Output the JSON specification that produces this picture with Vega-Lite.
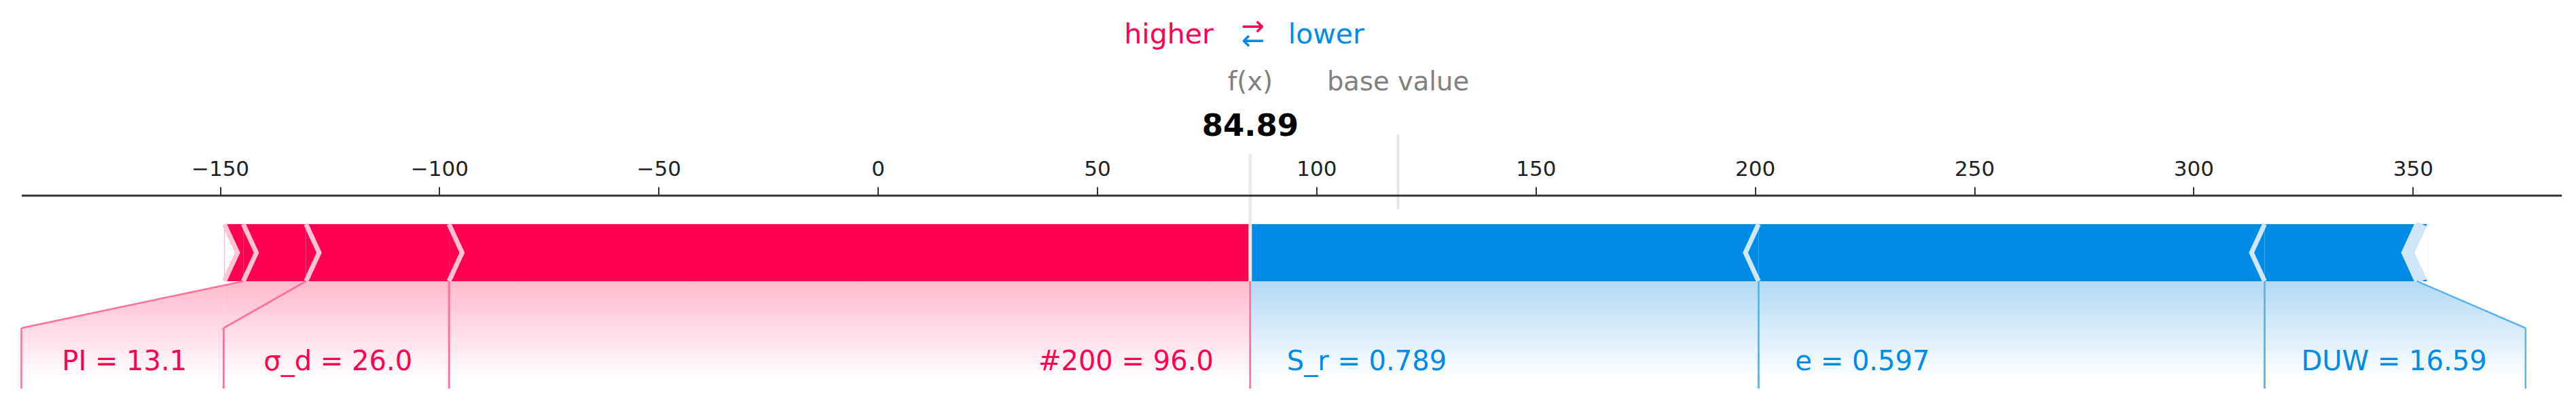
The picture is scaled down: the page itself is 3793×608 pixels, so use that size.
{
  "$schema": "https://vega.github.io/schema/vega-lite/v6.json",
  "width": 3740.2,
  "height": 320.5,
  "autosize": {"type": "none"},
  "padding": {"left": 31.5, "top": 287.5, "right": 21.3, "bottom": 0},
  "background": "white",
  "config": {"view": {"stroke": null}, "font": "DejaVu Sans", "axisY": {"disable": true}},
  "datasets": {
    "features": [
      {"feature": "other", "effect": "higher", "start": -149.0, "end": -144.7},
      {"feature": "PI", "label": "PI = 13.1", "effect": "higher", "start": -144.7, "end": -130.4, "label_start": -195.3, "label_end": -149.2},
      {"feature": "σ_d", "label": "σ_d = 26.0", "effect": "higher", "start": -130.4, "end": -97.8, "label_start": -149.2, "label_end": -97.8},
      {"feature": "#200", "label": "#200 = 96.0", "effect": "higher", "start": -97.8, "end": 84.89, "label_start": -97.8, "label_end": 84.89},
      {"feature": "S_r", "label": "S_r = 0.789", "effect": "lower", "start": 84.89, "end": 200.8, "label_start": 84.89, "label_end": 200.8},
      {"feature": "e", "label": "e = 0.597", "effect": "lower", "start": 200.8, "end": 316.2, "label_start": 200.8, "label_end": 316.2},
      {"feature": "DUW", "label": "DUW = 16.59", "effect": "lower", "start": 316.2, "end": 350.9, "label_start": 316.2, "label_end": 375.7},
      {"feature": "other", "effect": "lower", "start": 350.9, "end": 353.3}
    ],
    "summary": [{"fx": 84.89, "base": 118.6}]
  },
  "data": {"name": "features"},
  "layer": [
    {
      "transform": [{"filter": "datum.effect === 'higher' && isValid(datum.label)"}],
      "mark": {"type": "rect", "strokeWidth": 0, "fill": {"gradient": "linear", "x1": 0, "y1": 0, "x2": 0, "y2": 1, "stops": [{"offset": 0, "color": "#FFB9CD"}, {"offset": 0.92, "color": "#FFFFFF"}]}},
      "encoding": {
        "x": {"field": "label_start", "type": "quantitative", "scale": {"domain": [-195.3, 383.9], "nice": false, "zero": false},
          "axis": {"orient": "top", "values": [-150, -100, -50, 0, 50, 100, 150, 200, 250, 300, 350], "title": null, "grid": false,
            "domainColor": "#333333", "domainWidth": 3, "tickColor": "#333333", "tickWidth": 2, "tickSize": 12.5,
            "labelFontSize": 31, "labelColor": "#222222", "labelPadding": 17, "labelBaseline": "alphabetic", "labelFont": "DejaVu Sans",
            "labelFlush": false, "labelOverlap": false, "zindex": 1}},
        "x2": {"field": "label_end"},
        "y": {"datum": 68.09, "type": "quantitative", "scale": {"domain": [47.29, 100], "reverse": true, "nice": false, "zero": false}, "axis": null},
        "y2": {"datum": 94.08}
      }
    },
    {
      "transform": [{"filter": "datum.effect === 'lower' && isValid(datum.label)"}],
      "mark": {"type": "rect", "strokeWidth": 0, "fill": {"gradient": "linear", "x1": 0, "y1": 0, "x2": 0, "y2": 1, "stops": [{"offset": 0, "color": "#B2D9F5"}, {"offset": 0.92, "color": "#FFFFFF"}]}},
      "encoding": {
        "x": {"field": "label_start", "type": "quantitative"},
        "x2": {"field": "label_end"},
        "y": {"datum": 68.09, "type": "quantitative"},
        "y2": {"datum": 94.08}
      }
    },
    {
      "transform": [{"filter": "datum.feature === 'PI'"}],
      "mark": {"type": "rule", "color": "white", "strokeWidth": 150, "strokeCap": "square", "yOffset": -76.7, "y2Offset": -76.7},
      "encoding": {
        "x": {"field": "start", "type": "quantitative"},
        "x2": {"field": "label_start"},
        "y": {"datum": 68.09, "type": "quantitative"},
        "y2": {"datum": 79.44}
      }
    },
    {
      "transform": [{"filter": "datum.feature === 'DUW'"}],
      "mark": {"type": "rule", "color": "white", "strokeWidth": 150, "strokeCap": "square", "yOffset": -82, "y2Offset": -82},
      "encoding": {
        "x": {"field": "end", "type": "quantitative"},
        "x2": {"field": "label_end"},
        "y": {"datum": 68.09, "type": "quantitative"},
        "y2": {"datum": 79.44}
      }
    },
    {
      "mark": {"type": "rect", "strokeWidth": 0},
      "encoding": {
        "x": {"field": "start", "type": "quantitative"},
        "x2": {"field": "end"},
        "y": {"datum": 54.28, "type": "quantitative"},
        "y2": {"datum": 68.09},
        "color": {"field": "effect", "type": "nominal", "scale": {"domain": ["higher", "lower"], "range": ["#FF0051", "#008BE6"]}, "legend": null}
      }
    },
    {
      "transform": [{"filter": "datum.feature === 'other' && datum.effect === 'higher'"}],
      "mark": {"type": "point", "shape": "M0,-1.03L0.46,0L0,1.03Z", "filled": true, "color": "white", "strokeWidth": 0, "size": 7056, "opacity": 1},
      "encoding": {
        "x": {"field": "start", "type": "quantitative"},
        "y": {"datum": 61.18, "type": "quantitative"}
      }
    },
    {
      "transform": [{"filter": "datum.feature === 'other' && datum.effect === 'lower'"}],
      "mark": {"type": "point", "shape": "M0,-1.03L-0.46,0L0,1.03Z", "filled": true, "color": "white", "strokeWidth": 0, "size": 7056, "opacity": 1},
      "encoding": {
        "x": {"field": "end", "type": "quantitative"},
        "y": {"datum": 61.18, "type": "quantitative"}
      }
    },
    {
      "transform": [{"filter": "datum.effect === 'higher'"}],
      "mark": {"type": "point", "shape": "M0,-1L0.46,0L0,1", "filled": false, "color": "#FFC3D5", "strokeWidth": 7, "size": 7056, "opacity": 1, "strokeJoin": "miter"},
      "encoding": {
        "x": {"field": "start", "type": "quantitative"},
        "y": {"datum": 61.18, "type": "quantitative"}
      }
    },
    {
      "transform": [{"filter": "datum.effect === 'lower' && datum.feature !== 'other'"}],
      "mark": {"type": "point", "shape": "M0,-1L-0.46,0L0,1", "filled": false, "color": "#D1E6FA", "strokeWidth": 7, "size": 7056, "opacity": 1, "strokeJoin": "miter"},
      "encoding": {
        "x": {"field": "end", "type": "quantitative"},
        "y": {"datum": 61.18, "type": "quantitative"}
      }
    },
    {
      "transform": [{"filter": "datum.effect === 'lower' && datum.feature === 'other'"}],
      "mark": {"type": "point", "shape": "M0,-1L-0.46,0L0,1", "filled": false, "color": "#CFE5FA", "strokeWidth": 15.5, "size": 7056, "opacity": 1, "strokeJoin": "miter", "xOffset": 7.5},
      "encoding": {
        "x": {"field": "start", "type": "quantitative"},
        "y": {"datum": 61.18, "type": "quantitative"}
      }
    },
    {
      "data": {"name": "summary"},
      "mark": {"type": "rule", "color": "#EBEBEB", "strokeWidth": 5},
      "encoding": {
        "x": {"field": "fx", "type": "quantitative"},
        "y": {"datum": 37.34, "type": "quantitative"},
        "y2": {"datum": 68.09}
      }
    },
    {
      "data": {"name": "summary"},
      "mark": {"type": "rule", "color": "#E6E6E6", "strokeWidth": 4},
      "encoding": {
        "x": {"field": "base", "type": "quantitative"},
        "y": {"datum": 32.57, "type": "quantitative"},
        "y2": {"datum": 50.66}
      }
    },
    {
      "transform": [{"filter": "isValid(datum.label)"}],
      "mark": {"type": "rule", "strokeWidth": 2.5},
      "encoding": {
        "x": {"field": "start", "type": "quantitative"},
        "x2": {"field": "label_start"},
        "y": {"datum": 68.09, "type": "quantitative"},
        "y2": {"datum": 79.44},
        "stroke": {"field": "effect", "type": "nominal", "scale": {"domain": ["higher", "lower"], "range": ["#FF6F99", "#5DB3F0"]}, "legend": null}
      }
    },
    {
      "transform": [{"filter": "isValid(datum.label)"}],
      "mark": {"type": "rule", "strokeWidth": 2.5},
      "encoding": {
        "x": {"field": "label_start", "type": "quantitative"},
        "y": {"datum": 79.44, "type": "quantitative"},
        "y2": {"datum": 94.08},
        "stroke": {"field": "effect", "type": "nominal", "legend": null}
      }
    },
    {
      "transform": [{"filter": "isValid(datum.label)"}],
      "mark": {"type": "rule", "strokeWidth": 2.5},
      "encoding": {
        "x": {"field": "end", "type": "quantitative"},
        "x2": {"field": "label_end"},
        "y": {"datum": 68.09, "type": "quantitative"},
        "y2": {"datum": 79.44},
        "stroke": {"field": "effect", "type": "nominal", "legend": null}
      }
    },
    {
      "transform": [{"filter": "isValid(datum.label)"}],
      "mark": {"type": "rule", "strokeWidth": 2.5},
      "encoding": {
        "x": {"field": "label_end", "type": "quantitative"},
        "y": {"datum": 79.44, "type": "quantitative"},
        "y2": {"datum": 94.08},
        "stroke": {"field": "effect", "type": "nominal", "legend": null}
      }
    },
    {
      "transform": [{"filter": "datum.effect === 'higher' && isValid(datum.label)"}],
      "mark": {"type": "text", "align": "right", "baseline": "alphabetic", "dx": -54, "fontSize": 40},
      "encoding": {
        "x": {"field": "label_end", "type": "quantitative"},
        "y": {"datum": 89.64, "type": "quantitative"},
        "text": {"field": "label"},
        "color": {"field": "effect", "type": "nominal", "legend": null}
      }
    },
    {
      "transform": [{"filter": "datum.effect === 'lower' && isValid(datum.label)"}],
      "mark": {"type": "text", "align": "left", "baseline": "alphabetic", "dx": 54, "fontSize": 40},
      "encoding": {
        "x": {"field": "label_start", "type": "quantitative"},
        "y": {"datum": 89.64, "type": "quantitative"},
        "text": {"field": "label"},
        "color": {"field": "effect", "type": "nominal", "legend": null}
      }
    },
    {
      "data": {"name": "summary"},
      "mark": {"type": "text", "text": "higher", "align": "right", "baseline": "alphabetic", "dx": -54, "fontSize": 41, "color": "#FF0051"},
      "encoding": {
        "x": {"field": "fx", "type": "quantitative"},
        "y": {"datum": 10.61, "type": "quantitative"}
      }
    },
    {
      "data": {"name": "summary"},
      "mark": {"type": "text", "text": "lower", "align": "left", "baseline": "alphabetic", "dx": 56, "fontSize": 41, "color": "#008BE6"},
      "encoding": {
        "x": {"field": "fx", "type": "quantitative"},
        "y": {"datum": 10.61, "type": "quantitative"}
      }
    },
    {
      "data": {"name": "summary"},
      "mark": {"type": "text", "text": "→", "align": "center", "baseline": "alphabetic", "dx": 4, "fontSize": 41, "color": "#FF0051"},
      "encoding": {
        "x": {"field": "fx", "type": "quantitative"},
        "y": {"datum": 8.52, "type": "quantitative"}
      }
    },
    {
      "data": {"name": "summary"},
      "mark": {"type": "text", "text": "←", "align": "center", "baseline": "alphabetic", "dx": 4, "fontSize": 41, "color": "#008BE6"},
      "encoding": {
        "x": {"field": "fx", "type": "quantitative"},
        "y": {"datum": 12.09, "type": "quantitative"}
      }
    },
    {
      "data": {"name": "summary"},
      "mark": {"type": "text", "text": "f(x)", "align": "center", "baseline": "alphabetic", "fontSize": 38.5, "color": "#808080"},
      "encoding": {
        "x": {"field": "fx", "type": "quantitative"},
        "y": {"datum": 21.88, "type": "quantitative"}
      }
    },
    {
      "data": {"name": "summary"},
      "mark": {"type": "text", "text": "base value", "align": "center", "baseline": "alphabetic", "fontSize": 38.5, "color": "#808080"},
      "encoding": {
        "x": {"field": "base", "type": "quantitative"},
        "y": {"datum": 21.88, "type": "quantitative"}
      }
    },
    {
      "data": {"name": "summary"},
      "mark": {"type": "text", "align": "center", "baseline": "alphabetic", "fontSize": 45, "fontWeight": "bold", "color": "#000000"},
      "encoding": {
        "x": {"field": "fx", "type": "quantitative"},
        "y": {"datum": 32.89, "type": "quantitative"},
        "text": {"field": "fx", "type": "quantitative", "format": ".2f"}
      }
    }
  ]
}
